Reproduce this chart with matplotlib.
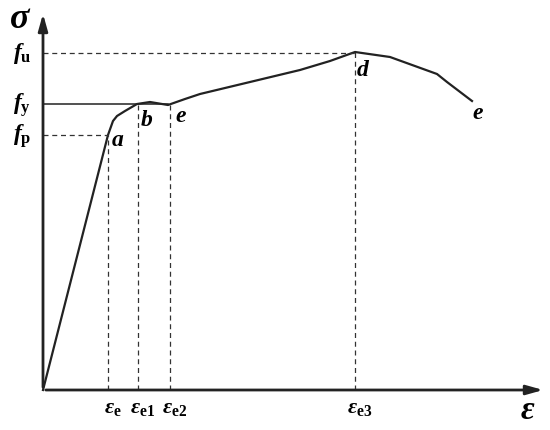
import matplotlib
matplotlib.use("Agg")
import matplotlib.pyplot as plt

plt.rcParams['mathtext.fontset'] = 'custom'
plt.rcParams['mathtext.rm'] = 'Liberation Serif:bold'
plt.rcParams['mathtext.it'] = 'Liberation Serif:italic:bold'
plt.rcParams['mathtext.bf'] = 'Liberation Serif:bold'

# Stress-strain curve (arbitrary units)
strain = [0.0, 0.65, 0.70, 0.74, 0.82, 0.94, 1.07, 1.25, 1.42, 1.57, 2.07, 2.57, 2.87, 3.12, 3.47, 3.94, 4.04, 4.29]
stress = [0.0, 2.55, 2.69, 2.74, 2.79, 2.86, 2.88, 2.85, 2.91, 2.96, 3.08, 3.20, 3.29, 3.38, 3.33, 3.16, 3.08, 2.89]

# characteristic strains and stresses
eps_names = [r'$\varepsilon_{\mathrm{e}}$', r'$\varepsilon_{\mathrm{e1}}$', r'$\varepsilon_{\mathrm{e2}}$', r'$\varepsilon_{\mathrm{e3}}$']
eps_vals = [0.65, 0.95, 1.27, 3.12]
eps_tops = [2.55, 2.86, 2.85, 3.38]
f_names = [r'$f_{\mathrm{u}}$', r'$f_{\mathrm{y}}$', r'$f_{\mathrm{p}}$']
f_vals = [3.37, 2.86, 2.55]
f_ends = [3.12, 1.25, 0.65]
pt_labels = ['a', 'b', 'e', 'd', 'e']
pt_x = [0.75, 1.04, 1.38, 3.20, 4.35]
pt_y = [2.50, 2.70, 2.74, 3.21, 2.78]

fig = plt.figure(figsize=(5.5, 4.31), dpi=100)
ax = fig.add_axes([0, 0, 1, 1])
ax.set_xlim(-0.43, 5.07)
ax.set_ylim(-0.40, 3.91)
ax.axis('off')

# axes arrows
ax.annotate('', xy=(5.03, 0), xytext=(0, 0),
            arrowprops=dict(arrowstyle='-|>,head_length=1.0,head_width=0.28', lw=2.0, color='#222222'))
ax.annotate('', xy=(0, 3.79), xytext=(0, 0),
            arrowprops=dict(arrowstyle='-|>,head_length=1.0,head_width=0.28', lw=2.0, color='#222222'))

ax.plot(strain, stress, color='#222222', lw=1.6, solid_joinstyle='round')

# dashed guides
for v, t in zip(eps_vals, eps_tops):
    ax.plot([v, v], [0, t], ls=(0, (4, 3)), color='#333333', lw=0.9)
for i, (v, e) in enumerate(zip(f_vals, f_ends)):
    if i == 1:
        ax.plot([0, e], [v, v], color='#222222', lw=1.1)
    else:
        ax.plot([0, e], [v, v], ls=(0, (4, 3)), color='#333333', lw=0.9)

# labels
for n, v in zip(eps_names, eps_vals):
    ax.text(v + 0.05, -0.17, n, ha='center', va='center', fontsize=16)
for n, v in zip(f_names, f_vals):
    ax.text(-0.21, v, n, ha='center', va='center', fontsize=17)
for n, x, y in zip(pt_labels, pt_x, pt_y):
    ax.text(x, y, n, ha='center', va='center', fontsize=17,
            family='Liberation Serif', style='italic', weight='bold')

ax.text(-0.23, 3.73, r'$\sigma$', ha='center', va='center', fontsize=26)
ax.text(4.85, -0.19, r'$\varepsilon$', ha='center', va='center', fontsize=24)

fig.savefig('out.png', dpi=100)
